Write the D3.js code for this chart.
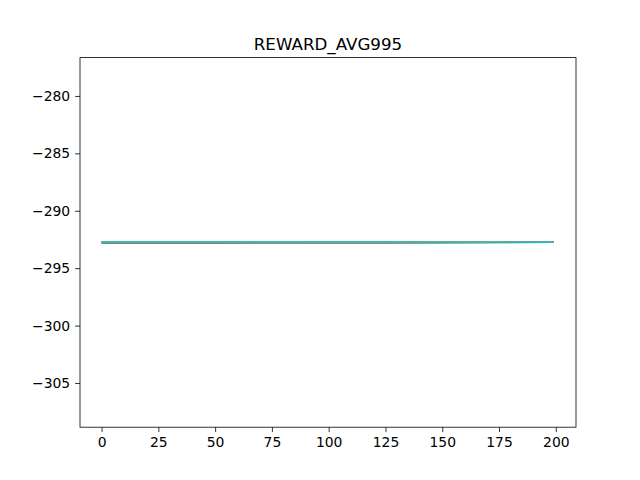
<!DOCTYPE html>
<html><head><meta charset="utf-8">
<script src="https://cdn.jsdelivr.net/npm/d3@7"></script>
<style>body{margin:0;background:#fff}text{font-family:"DejaVu Sans",sans-serif}</style>
</head><body><div id="chart"></div>
<script>
// x positions of the sampled points, and one array per run
const steps = [0, 25, 50, 75, 100, 125, 150, 175, 199]
const run0 = [-292.72, -292.72, -292.72, -292.72, -292.72, -292.72, -292.73, -292.73, -292.74]
const run1 = [-292.73, -292.73, -292.73, -292.73, -292.73, -292.73, -292.73, -292.74, -292.74]
const run2 = [-292.74, -292.74, -292.74, -292.74, -292.74, -292.74, -292.74, -292.74, -292.74]
const run3 = [-292.75, -292.75, -292.75, -292.75, -292.75, -292.75, -292.75, -292.75, -292.74]
const run4 = [-292.76, -292.76, -292.76, -292.76, -292.76, -292.76, -292.75, -292.75, -292.75]
const run5 = [-292.77, -292.77, -292.77, -292.77, -292.77, -292.76, -292.76, -292.75, -292.75]
const run6 = [-292.78, -292.78, -292.78, -292.78, -292.77, -292.77, -292.76, -292.76, -292.75]
const run7 = [-292.82, -292.82, -292.82, -292.81, -292.81, -292.80, -292.79, -292.77, -292.75]
const run8 = [-292.70, -292.70, -292.70, -292.70, -292.71, -292.71, -292.72, -292.73, -292.74]
const run9 = [-292.73, -292.73, -292.73, -292.73, -292.73, -292.73, -292.74, -292.74, -292.74]
const runs = [run0, run1, run2, run3, run4, run5, run6, run7, run8, run9]
const yTicks = [-280, -285, -290, -295, -300, -305]
const xTicks = [0, 25, 50, 75, 100, 125, 150, 175, 200]
const title = "REWARD_AVG995"

const colors = d3.schemeCategory10
var margin = { top: 57.6, right: 64, bottom: 52.8, left: 80 },
    width = 640 - margin.left - margin.right,
    height = 480 - margin.top - margin.bottom

var svg = d3.select("#chart").append("svg")
    .attr("width", 640).attr("height", 480)
    .append("g")
    .attr("transform", "translate(" + margin.left + "," + margin.top + ")")

var x = d3.scaleLinear().domain([-9.5, 208.9]).range([0, width])
var y = d3.scaleLinear().domain([-308.85, -276.66]).range([height, 0])

var line = d3.line().x((d, i) => x(steps[i])).y(d => y(d))
runs.forEach((r, i) => {
    svg.append("path").datum(r)
        .attr("d", line)
        .attr("fill", "none")
        .attr("stroke", colors[i])
        .attr("stroke-width", 1.5)
})

var xAxis = svg.append("g")
    .attr("transform", "translate(0," + height + ")")
    .call(d3.axisBottom(x).tickValues(xTicks).tickSize(4.9).tickPadding(4.9))
var yAxis = svg.append("g")
    .call(d3.axisLeft(y).tickValues(yTicks).tickSize(4.9).tickPadding(4.9)
        .tickFormat(d => "\u2212" + Math.abs(d)))
;[xAxis, yAxis].forEach(a => {
    a.select(".domain").remove()
    a.selectAll("text").style("font-size", "13.9px").attr("fill", "#000")
    a.selectAll("line").attr("stroke", "#000").attr("stroke-width", 0.8)
})

svg.append("rect").attr("width", width).attr("height", height)
    .attr("fill", "none").attr("stroke", "#000").attr("stroke-width", 0.8)

svg.append("text").attr("x", width / 2).attr("y", -8)
    .attr("text-anchor", "middle").style("font-size", "16.7px").text(title)
</script></body></html>
